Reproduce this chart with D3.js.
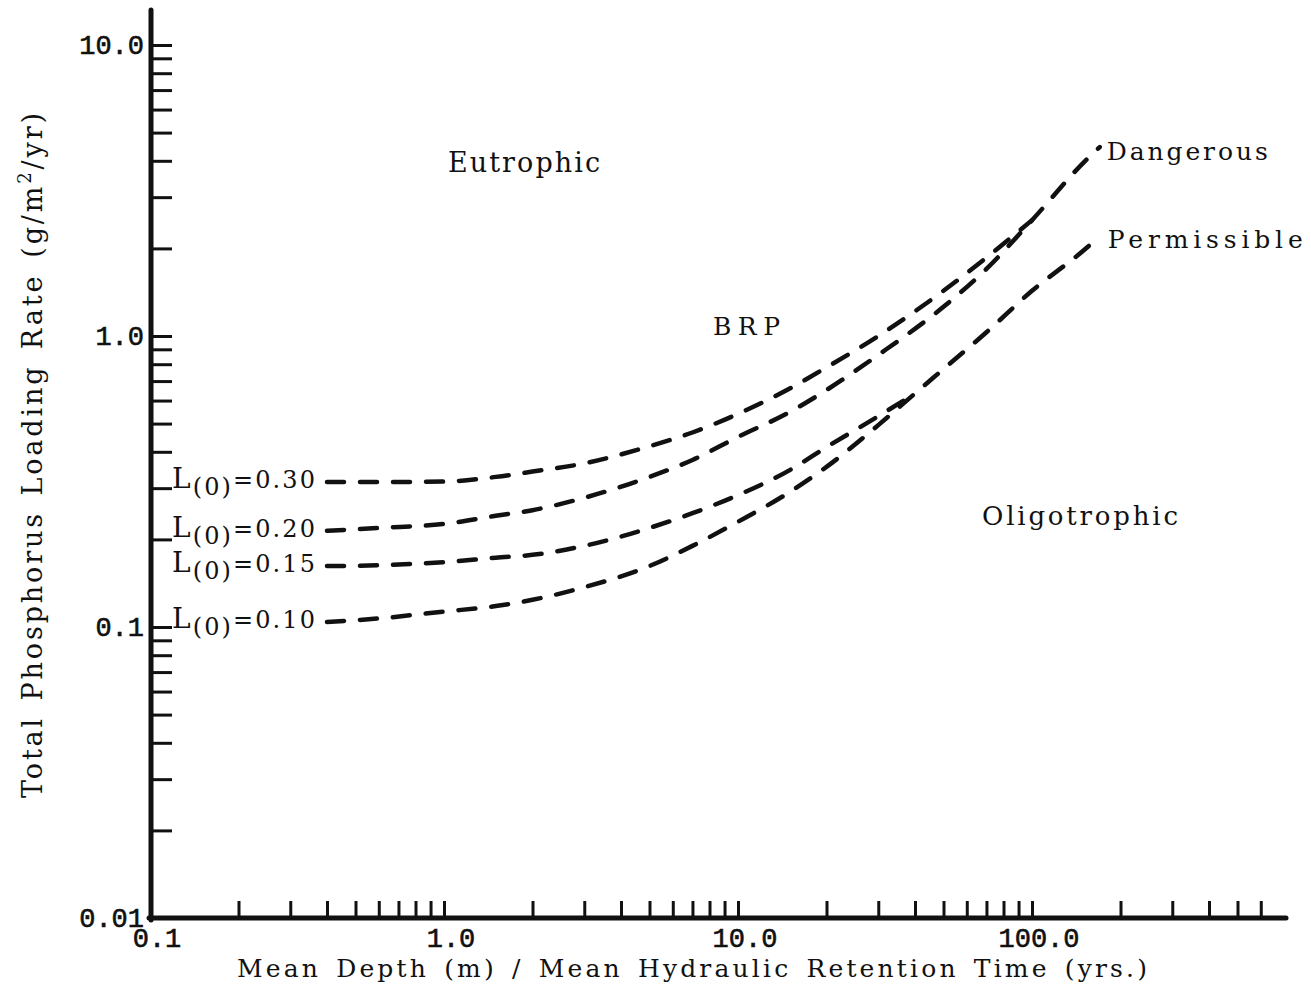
<!DOCTYPE html>
<html>
<head>
<meta charset="utf-8">
<script src="https://cdn.jsdelivr.net/npm/d3@7"></script>
<style>
  html, body { margin: 0; padding: 0; background: #fff; }
  svg { display: block; }
  .serif { font-family: "DejaVu Serif", "Liberation Serif", serif; fill: #111; }
  .mono  { font-family: "Liberation Mono", "DejaVu Sans Mono", monospace; fill: #111; stroke: #111; stroke-width: 0.6; }
</style>
</head>
<body>
<svg id="chart" width="1311" height="990"></svg>
<script>
// Critical phosphorus loading curves: hydraulic load (x) vs. loading rate (y)
const xL030 = [0.4, 0.6, 1, 1.5, 2, 3, 5, 7, 10, 15, 20, 30, 50, 70, 100];
const yL030 = [0.315, 0.315, 0.316, 0.328, 0.342, 0.365, 0.418, 0.466, 0.54, 0.66, 0.78, 1.0, 1.43, 1.86, 2.5];

const xL020 = [0.4, 0.6, 1, 1.5, 2, 3, 5, 7, 10, 15, 20, 30, 50, 70, 100, 150, 170];
const yL020 = [0.214, 0.219, 0.226, 0.241, 0.252, 0.278, 0.328, 0.375, 0.45, 0.548, 0.652, 0.861, 1.26, 1.7, 2.5, 3.95, 4.46];

const xL015 = [0.4, 0.6, 1, 1.5, 2, 3, 5, 7, 10, 15, 20, 30, 40];
const yL015 = [0.162, 0.163, 0.167, 0.173, 0.177, 0.19, 0.219, 0.246, 0.284, 0.346, 0.415, 0.53, 0.635];

const xL010 = [0.4, 0.6, 1, 1.5, 2, 3, 5, 7, 10, 15, 20, 30, 40, 50, 70, 100, 150, 170];
const yL010 = [0.104, 0.107, 0.113, 0.118, 0.124, 0.137, 0.162, 0.19, 0.23, 0.291, 0.355, 0.494, 0.635, 0.77, 1.03, 1.43, 1.97, 2.2];

const curveNames = ["0.30", "0.20", "0.15", "0.10"];

// Axis ticks and labels
const xTicks = [0.2, 0.3, 0.4, 0.5, 0.6, 0.7, 0.8, 0.9, 1,
                2, 3, 4, 5, 6, 7, 8, 9, 10,
                20, 30, 40, 50, 60, 70, 80, 90, 100,
                200, 300, 400, 500, 600];
const yTicks = [0.02, 0.03, 0.04, 0.05, 0.06, 0.07, 0.08, 0.09, 0.1,
                0.2, 0.3, 0.4, 0.5, 0.6, 0.7, 0.8, 0.9, 1,
                2, 3, 4, 5, 6, 7, 8, 9, 10];
const xLabelValues = [0.1, 1, 10, 100];
const xLabelTexts = ["0.1", "1.0", "10.0", "100.0"];
const yLabelValues = [0.01, 0.1, 1, 10];
const yLabelTexts = ["0.01", "0.1", "1.0", "10.0"];

const svg = d3.select("#chart");
svg.append("rect").attr("width", 1311).attr("height", 990).attr("fill", "#fff");

const x = d3.scaleLog().domain([0.1, 1000]).range([150, 1326]);
const y = d3.scaleLog().domain([0.01, 10]).range([918, 45]);

// Tick marks (inside the frame)
const yAxis = svg.append("g")
  .attr("transform", "translate(151,0)")
  .call(d3.axisRight(y).tickValues(yTicks).tickSize(21).tickFormat(""));
yAxis.select(".domain").remove();
yAxis.selectAll(".tick line").attr("stroke", "#111").attr("stroke-width", 3);

const xAxis = svg.append("g")
  .attr("transform", "translate(0,918)")
  .call(d3.axisTop(x).tickValues(xTicks).tickSize(17).tickFormat(""));
xAxis.select(".domain").remove();
xAxis.selectAll(".tick line").attr("stroke", "#111").attr("stroke-width", 3);

// Heavy axis lines
svg.append("line").attr("x1", 151).attr("x2", 151).attr("y1", 10).attr("y2", 920)
  .attr("stroke", "#111").attr("stroke-width", 5).attr("stroke-linecap", "round");
svg.append("line").attr("x1", 149).attr("x2", 1286).attr("y1", 918).attr("y2", 918)
  .attr("stroke", "#111").attr("stroke-width", 5).attr("stroke-linecap", "round");

// Tick labels
svg.selectAll("text.ylab").data(yLabelValues).enter().append("text")
  .attr("class", "mono ylab")
  .attr("x", 144)
  .attr("y", d => y(d) + 9)
  .attr("text-anchor", "end")
  .attr("font-size", 27)
  .text((d, i) => yLabelTexts[i]);

svg.selectAll("text.xlab").data(xLabelValues).enter().append("text")
  .attr("class", "mono xlab")
  .attr("x", d => x(d) + 7)
  .attr("y", 947)
  .attr("text-anchor", "middle")
  .attr("font-size", 27)
  .text((d, i) => xLabelTexts[i]);

// Axis titles
svg.append("text")
  .attr("class", "serif")
  .attr("x", 237).attr("y", 977)
  .attr("font-size", 25)
  .attr("word-spacing", 4)
  .attr("textLength", 910).attr("lengthAdjust", "spacing")
  .text("Mean Depth (m) / Mean Hydraulic Retention Time (yrs.)");

const yTitle = svg.append("text")
  .attr("class", "serif")
  .attr("transform", "translate(42,798) rotate(-90)")
  .attr("x", 0).attr("y", 0)
  .attr("font-size", 27)
  .attr("word-spacing", 4)
  .attr("textLength", 685).attr("lengthAdjust", "spacing");
yTitle.append("tspan").text("Total Phosphorus Loading Rate");
yTitle.append("tspan").attr("dx", 16).text("(g/m");
yTitle.append("tspan").attr("dy", -11).attr("font-size", 18).text("2");
yTitle.append("tspan").attr("dy", 11).text("/yr)");

// Loading curves
const series = [
  { name: curveNames[0], xs: xL030, ys: yL030 },
  { name: curveNames[1], xs: xL020, ys: yL020 },
  { name: curveNames[2], xs: xL015, ys: yL015 },
  { name: curveNames[3], xs: xL010, ys: yL010 }
];

const line = d3.line()
  .x(d => x(d[0]))
  .y(d => y(d[1]))
  .curve(d3.curveMonotoneX);

svg.selectAll("path.curve").data(series).enter().append("path")
  .attr("class", "curve")
  .attr("d", s => line(s.xs.map((v, i) => [v, s.ys[i]])))
  .attr("fill", "none")
  .attr("stroke", "#111")
  .attr("stroke-width", 4.5)
  .attr("stroke-dasharray", "17,16")
  .attr("stroke-linecap", "round");

// Curve labels L(0)=...
series.forEach(s => {
  const t = svg.append("text")
    .attr("class", "serif")
    .attr("x", 172)
    .attr("y", y(s.ys[0]) + 6)
    .attr("font-size", 24)
    .attr("textLength", 143).attr("lengthAdjust", "spacing");
  t.append("tspan").attr("font-size", 28).text("L");
  t.append("tspan").attr("dy", 7).attr("font-size", 24).text("(0)");
  t.append("tspan").attr("dy", -7).text("=" + s.name);
});

// Region labels
const regions = [
  { text: "Eutrophic",    x: 448, y: 172, size: 27, len: 152 },
  { text: "BRP",          x: 713, y: 335, size: 25, len: 67 },
  { text: "Oligotrophic", x: 982, y: 525, size: 26, len: 196 }
];
regions.forEach(r => {
  svg.append("text").attr("class", "serif")
    .attr("x", r.x).attr("y", r.y)
    .attr("font-size", r.size)
    .attr("textLength", r.len).attr("lengthAdjust", "spacing")
    .text(r.text);
});

// End-of-line labels
const dEnd = [xL020[xL020.length - 1], yL020[yL020.length - 1]];
const pEnd = [xL010[xL010.length - 1], yL010[yL010.length - 1]];
svg.append("text").attr("class", "serif")
  .attr("x", x(dEnd[0]) + 7).attr("y", y(dEnd[1]) + 13)
  .attr("font-size", 25)
  .attr("textLength", 161).attr("lengthAdjust", "spacing")
  .text("Dangerous");
svg.append("text").attr("class", "serif")
  .attr("x", x(pEnd[0]) + 8).attr("y", y(pEnd[1]) + 12)
  .attr("font-size", 25)
  .attr("textLength", 195).attr("lengthAdjust", "spacing")
  .text("Permissible");
</script>
</body>
</html>
